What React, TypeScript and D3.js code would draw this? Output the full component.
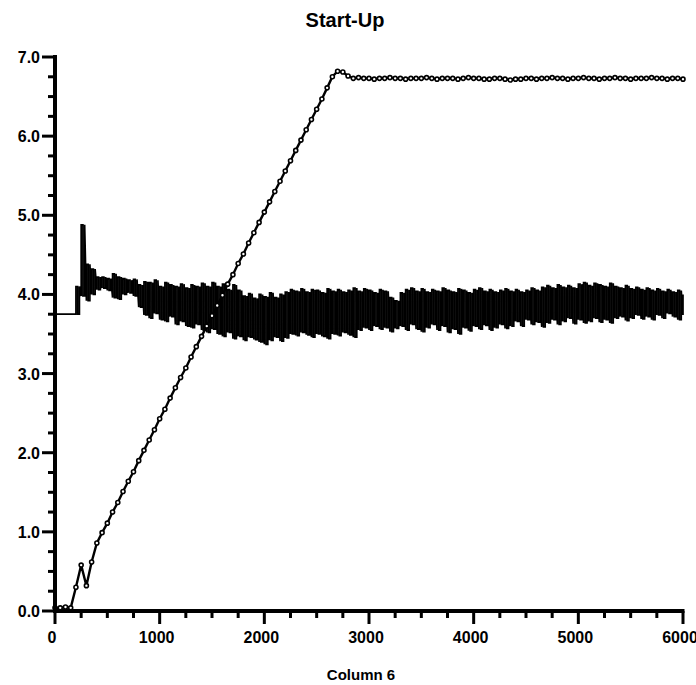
import React from "react";
import * as d3 from "d3";

// sample spacing of both series (Column 6 units)
const STEP = 50;

// ramp series (plotted with open circle markers)
const rampValues = [
  0.04, 0.04, 0.05, 0.04, 0.3, 0.58, 0.32, 0.62, 0.86, 0.99,
  1.11, 1.25, 1.37, 1.51, 1.64, 1.76, 1.9, 2.03, 2.16, 2.29,
  2.43, 2.55, 2.69, 2.82, 2.95, 3.07, 3.21, 3.34, 3.47, 3.6,
  3.73, 3.86, 3.99, 4.13, 4.25, 4.39, 4.51, 4.65, 4.78, 4.91,
  5.04, 5.17, 5.3, 5.43, 5.56, 5.69, 5.82, 5.95, 6.08, 6.21,
  6.34, 6.47, 6.61, 6.75, 6.82, 6.81, 6.76, 6.73, 6.74, 6.73,
  6.73, 6.72, 6.73, 6.73, 6.74, 6.73, 6.73, 6.72, 6.73, 6.73,
  6.73, 6.74, 6.73, 6.72, 6.73, 6.73, 6.73, 6.72, 6.73, 6.74,
  6.73, 6.73, 6.72, 6.72, 6.73, 6.73, 6.72, 6.71, 6.72, 6.72,
  6.73, 6.73, 6.72, 6.73, 6.73, 6.74, 6.73, 6.73, 6.72, 6.73,
  6.73, 6.74, 6.73, 6.73, 6.72, 6.73, 6.73, 6.74, 6.73, 6.73,
  6.72, 6.73, 6.73, 6.73, 6.74, 6.73, 6.73, 6.72, 6.73, 6.73,
  6.72,
];

// noisy series: low / high of each sample bin
const noiseLow = [
  3.75, 3.75, 3.75, 3.75, 3.75, 3.98, 3.92, 4.0, 4.06, 4.08,
  4.05, 3.96, 3.94, 4.0, 4.02, 3.98, 3.84, 3.74, 3.7, 3.76,
  3.68, 3.66, 3.72, 3.62, 3.66, 3.6, 3.58, 3.62, 3.55, 3.52,
  3.56, 3.5, 3.47, 3.52, 3.44, 3.47, 3.42, 3.46, 3.43, 3.4,
  3.37, 3.42, 3.46, 3.41, 3.45, 3.5, 3.48, 3.52, 3.49, 3.46,
  3.5, 3.47, 3.44, 3.5, 3.48, 3.52, 3.49, 3.46, 3.55, 3.58,
  3.55, 3.6, 3.56, 3.58, 3.53, 3.57, 3.6, 3.55, 3.62, 3.56,
  3.53, 3.58, 3.62, 3.55, 3.6, 3.52, 3.56, 3.5, 3.58, 3.54,
  3.6, 3.56, 3.61, 3.55, 3.58, 3.62, 3.57, 3.6, 3.66, 3.6,
  3.68, 3.62, 3.65, 3.59, 3.64, 3.68, 3.62, 3.66, 3.7, 3.63,
  3.68, 3.64, 3.66, 3.7, 3.65, 3.68, 3.64, 3.7, 3.72, 3.67,
  3.7, 3.74, 3.69, 3.72, 3.68, 3.74, 3.7, 3.76, 3.72, 3.68,
  3.74,
];
const noiseHigh = [
  6.95, 3.75, 3.75, 3.75, 4.1, 4.88, 4.38, 4.32, 4.22, 4.22,
  4.2, 4.26, 4.22, 4.2, 4.18, 4.19, 4.12, 4.16, 4.15, 4.18,
  4.1, 4.15, 4.12, 4.1, 4.13, 4.08, 4.12, 4.1, 4.14, 4.1,
  4.15, 4.1, 4.13, 4.06, 4.12, 4.05, 3.98, 4.01, 3.95, 4.0,
  3.97, 4.02, 3.96, 4.0, 4.03, 4.06, 4.04, 4.07, 4.03, 4.06,
  4.05, 4.02, 4.07, 4.04, 4.06, 4.03, 4.05, 4.08, 4.04, 4.07,
  4.05, 4.02, 4.06, 4.04, 3.96, 3.92, 4.02, 4.06, 4.08, 4.04,
  4.07, 4.03, 4.06, 4.04, 4.08, 4.05, 4.03, 4.07, 4.05, 4.02,
  4.06, 4.08, 4.04, 4.06, 4.03, 4.05, 4.07, 4.04, 4.06, 4.03,
  4.05, 4.08, 4.05, 4.09, 4.11, 4.08, 4.12, 4.09, 4.11, 4.08,
  4.13, 4.15, 4.11, 4.14, 4.12, 4.1, 4.14, 4.1, 4.08, 4.11,
  4.07, 4.09, 4.06, 4.08, 4.05, 4.07, 4.04, 4.06, 4.03, 4.05,
  4.0,
];

const xMajorTicks = [0, 1000, 2000, 3000, 4000, 5000, 6000];
const yMajorTicks = [0, 1, 2, 3, 4, 5, 6, 7];

const WIDTH = 696;
const HEIGHT = 685;
const FONT = "'Liberation Sans', Arial, Helvetica, sans-serif";

export default function App() {
  const x = d3.scaleLinear().domain([0, 6000]).range([55, 683]);
  const y = d3.scaleLinear().domain([0, 7]).range([611, 57]);

  const xMinor = d3.range(0, 6001, 250).filter((v) => v % 1000 !== 0);
  const yMinor = d3.range(0, 7.001, 0.25).filter((v) => Math.abs(v - Math.round(v)) > 1e-6);

  const ramp = rampValues.map((v, i) => [i * STEP, v] as [number, number]);

  // each bin is drawn as a tight low/high square wave (min/max rendering);
  // the first sample is only the drop from the top onto the start level
  const SUB = 3;
  const noisePts: [number, number][] = [[0, noiseHigh[0]], [0, noiseLow[0]]];
  noiseLow.forEach((lo, i) => {
    if (i === 0) return;
    const t = i * STEP;
    const hi = noiseHigh[i];
    const last = i === noiseLow.length - 1;
    for (let k = 0; k < (last ? 1 : SUB); k++) {
      const tk = t + (k * STEP) / SUB;
      if (k % 2 === 0) noisePts.push([tk, lo], [tk, hi]);
      else noisePts.push([tk, hi], [tk, lo]);
    }
  });

  const line = d3
    .line<[number, number]>()
    .x((d) => x(d[0]))
    .y((d) => y(d[1]));

  return (
    <svg
      width={WIDTH}
      height={HEIGHT}
      style={{ position: "absolute", left: 0, top: 0, background: "#fff" }}
    >
      <text x={345} y={27} textAnchor="middle" fontFamily={FONT} fontWeight="bold" fontSize={20}>
        Start-Up
      </text>

      {/* noisy series */}
      <path d={line(noisePts) ?? ""} fill="none" stroke="#000" strokeWidth={1.7} />

      {/* ramp series */}
      <path d={line(ramp) ?? ""} fill="none" stroke="#000" strokeWidth={2.4} />
      {ramp.map((d, i) => (
        <circle key={i} cx={x(d[0])} cy={y(d[1])} r={2} fill="#fff" stroke="#000" strokeWidth={1.6} />
      ))}

      {/* y axis */}
      <line x1={55} x2={55} y1={y(7) - 2} y2={y(0) + 2} stroke="#000" strokeWidth={4} />
      {yMajorTicks.map((t) => (
        <g key={t}>
          <line x1={42} x2={55} y1={y(t)} y2={y(t)} stroke="#000" strokeWidth={3} />
          <text x={40} y={y(t) + 6} textAnchor="end" fontFamily={FONT} fontWeight="bold" fontSize={16}>
            {t.toFixed(1)}
          </text>
        </g>
      ))}
      {yMinor.map((t) => (
        <line key={t} x1={48} x2={55} y1={y(t)} y2={y(t)} stroke="#000" strokeWidth={3} />
      ))}

      {/* x axis */}
      <line x1={53} x2={x(6000) + 1.5} y1={611} y2={611} stroke="#000" strokeWidth={4} />
      {xMajorTicks.map((t) => (
        <g key={t}>
          <line x1={x(t)} x2={x(t)} y1={611} y2={624} stroke="#000" strokeWidth={3} />
          <text x={x(t) - 3} y={643} textAnchor="middle" fontFamily={FONT} fontWeight="bold" fontSize={16}>
            {t}
          </text>
        </g>
      ))}
      {xMinor.map((t) => (
        <line key={t} x1={x(t)} x2={x(t)} y1={611} y2={618} stroke="#000" strokeWidth={3} />
      ))}

      <text x={361} y={680} textAnchor="middle" fontFamily={FONT} fontWeight="bold" fontSize={15}>
        Column 6
      </text>
    </svg>
  );
}
